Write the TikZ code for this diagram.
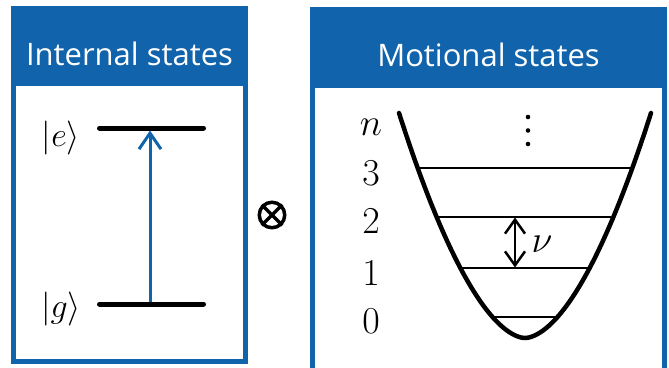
\RequirePackage{fix-cm}
\documentclass[tikz,border=0pt]{standalone}
\usepackage{fontspec}
\setmainfont{Open Sans}
\usetikzlibrary{arrows.meta}
\definecolor{boxblue}{RGB}{17,99,172}
\begin{document}
\begin{tikzpicture}[x=1pt, y=-1pt,
  frame/.style={draw=boxblue, line width=5pt},
  title/.style={text=white, font=\fontsize{31}{34}\selectfont, anchor=base},
  ket/.style={font=\fontsize{34}{38}\selectfont},
  num/.style={font=\fontsize{38}{42}\selectfont, anchor=base},
  level/.style={line width=5pt, line cap=round},
  vib/.style={line width=1.8pt},
  well/.style={line width=4.5pt, line cap=round},
  pump/.style={draw=boxblue, line width=3pt, -{Straight Barb[length=16pt, width=22pt, line width=3pt]}},
  gap/.style={line width=2.5pt, {Straight Barb[length=14pt, width=20pt, line width=2.5pt]}-{Straight Barb[length=14pt, width=20pt, line width=2.5pt]}}]
\useasboundingbox (0,0) rectangle (669,367);
\fill[white] (0,0) rectangle (669,367);
% internal states
\fill[boxblue] (11,6) rectangle (248,86);
\draw[frame] (13.5,8.5) rectangle (245.5,361.5);
\node[title] (T1) at (129.5,65) {Internal states};
\coordinate (E1) at (99.5,128);
\coordinate (E2) at (203.5,128);
\coordinate (G1) at (99.5,304);
\coordinate (G2) at (203.5,304);
\coordinate (Etop) at (150,130.5);
\coordinate (Gbot) at (150,301.5);
\draw[level] (E1) -- (E2);
\draw[level] (G1) -- (G2);
\node[ket] (KE) at (61,137.5) {$|e\rangle$};
\node[ket] (KG) at (61,309) {$|g\rangle$};
\draw[pump] (Gbot) -- (Etop);
% tensor product
\node[shape=circle, draw, line width=3.5pt, minimum size=25.5pt, inner sep=0pt] (P) at (272,215) {};
\draw[line width=3.5pt] (P.45) -- (P.225);
\draw[line width=3.5pt] (P.135) -- (P.315);
% motional states
\fill[boxblue] (310,7) rectangle (667,88);
\draw[frame] (312.5,9.5) rectangle (664.5,380);
\node[title] (T2) at (488.5,66) {Motional states};
\coordinate (L3a) at (420,168);
\coordinate (L3b) at (630,168);
\coordinate (L2a) at (439,217);
\coordinate (L2b) at (611,217);
\coordinate (L1a) at (461,268);
\coordinate (L1b) at (589,268);
\coordinate (L0a) at (490,317);
\coordinate (L0b) at (560,317);
\draw[vib] (L3a) -- (L3b);
\draw[vib] (L2a) -- (L2b);
\draw[vib] (L1a) -- (L1b);
\draw[vib] (L0a) -- (L0b);
\draw[well] plot[domain=-126:126, samples=100] ({525+\x},{338-0.0475*(abs(\x))^1.75});
\node[num] (Nn) at (371,135) {$n$};
\node[num] (N3) at (371,185) {$3$};
\node[num] (N2) at (371,233) {$2$};
\node[num] (N1) at (371,285) {$1$};
\node[num] (N0) at (371,333) {$0$};
\foreach \y in {117,130.5,144}
  \fill (528,\y) circle (2.3);
\coordinate (V2) at (515,217.5);
\coordinate (V1) at (515,267.5);
\draw[gap] (V1) -- (V2);
\node[font=\fontsize{38}{42}\selectfont] (nu) at (542,244) {$\nu$};
\end{tikzpicture}
\end{document}
